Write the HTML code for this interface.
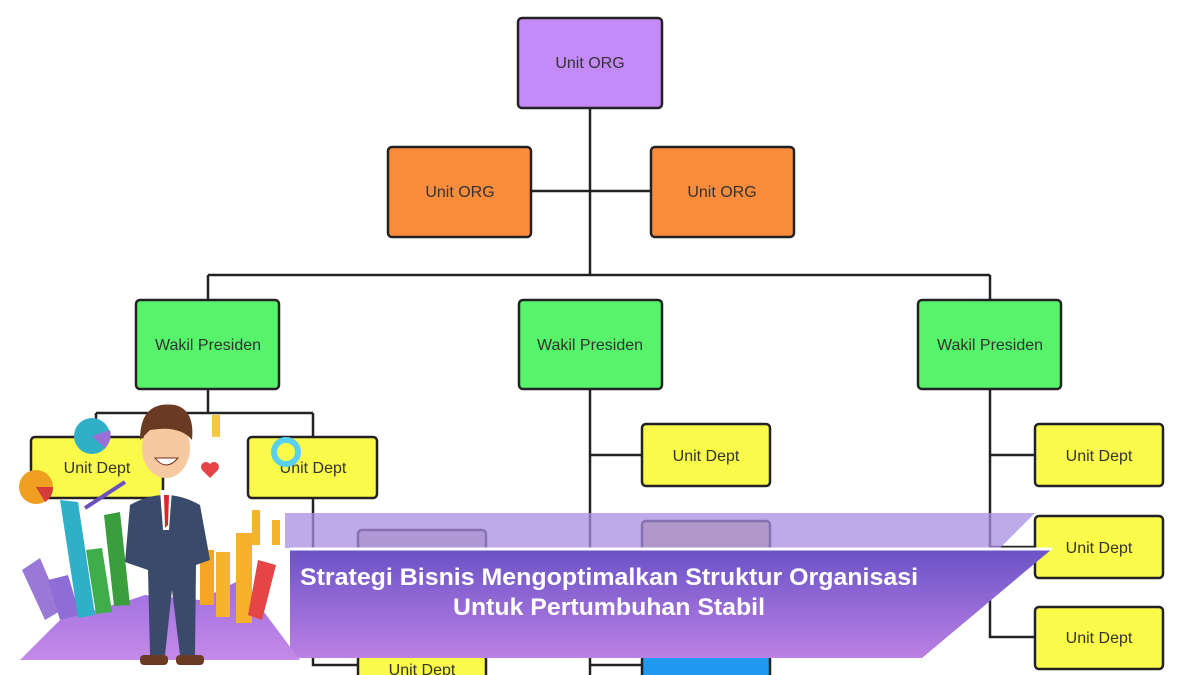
<!DOCTYPE html>
<html><head><meta charset="utf-8"><style>
html,body{margin:0;padding:0;background:#fff;width:1200px;height:675px;overflow:hidden}
svg{display:block}
text{font-family:"Liberation Sans",sans-serif}
</style></head><body>
<svg width="1200" height="675" viewBox="0 0 1200 675" xmlns="http://www.w3.org/2000/svg">
<defs>
<linearGradient id="bg" x1="0" y1="0" x2="0" y2="1"><stop offset="0" stop-color="#6a52c6"/><stop offset="1" stop-color="#bb80e4"/></linearGradient>
<linearGradient id="hill" x1="0" y1="0" x2="0" y2="1"><stop offset="0" stop-color="#9b6ee0"/><stop offset="1" stop-color="#c58ae8"/></linearGradient>
</defs>
<g stroke="#222" stroke-width="2.5" fill="none">
<path d="M590 108V275M531 191H651M208 275H990M208 275V300M990 275V300"/>
<path d="M208 389V413M96 413H313M96 413V437M313 413V437M313 498V665H358M313 560H358"/>
<path d="M590 389V675M590 455H642M590 550H642M590 665H642"/>
<path d="M990 389V637H1035M990 455H1035M990 547H1035"/>
</g>
<g stroke="#222" stroke-width="2.5">
<rect x="518" y="18" width="144" height="90" rx="4" fill="#c48bf8"/>
<rect x="388" y="147" width="143" height="90" rx="4" fill="#fb8c3c"/>
<rect x="651" y="147" width="143" height="90" rx="4" fill="#fb8c3c"/>
<rect x="136" y="300" width="143" height="89" rx="4" fill="#57f46b"/>
<rect x="519" y="300" width="143" height="89" rx="4" fill="#57f46b"/>
<rect x="918" y="300" width="143" height="89" rx="4" fill="#57f46b"/>
<rect x="31" y="437" width="132" height="61" rx="4" fill="#fafa4a"/>
<rect x="248" y="437" width="129" height="61" rx="4" fill="#fafa4a"/>
<rect x="642" y="424" width="128" height="62" rx="4" fill="#fafa4a"/>
<rect x="1035" y="424" width="128" height="62" rx="4" fill="#fafa4a"/>
<rect x="1035" y="516" width="128" height="62" rx="4" fill="#fafa4a"/>
<rect x="1035" y="607" width="128" height="62" rx="4" fill="#fafa4a"/>
<rect x="358" y="530" width="128" height="62" rx="4" fill="#c8b8b8"/>
<rect x="642" y="521" width="128" height="62" rx="4" fill="#c9b98a"/>
<rect x="358" y="655" width="128" height="40" rx="4" fill="#fafa4a"/>
<rect x="642" y="655" width="128" height="40" rx="4" fill="#1f9af0"/>
</g>
<g font-size="16" fill="#333" text-anchor="middle">
<text x="590" y="68">Unit ORG</text>
<text x="460" y="197">Unit ORG</text>
<text x="722" y="197">Unit ORG</text>
<text x="208" y="350">Wakil Presiden</text>
<text x="590" y="350">Wakil Presiden</text>
<text x="990" y="350">Wakil Presiden</text>
<text x="97" y="473">Unit Dept</text>
<text x="313" y="473">Unit Dept</text>
<text x="706" y="461">Unit Dept</text>
<text x="1099" y="461">Unit Dept</text>
<text x="1099" y="553">Unit Dept</text>
<text x="1099" y="643">Unit Dept</text>
<text x="422" y="675">Unit Dept</text>
</g>
<!-- banner -->
<path d="M285 513H1035L1000 548H285Z" fill="#a88ee0" opacity="0.75"/>
<path d="M290 549H1052L922 658H290Z" fill="url(#bg)"/>
<path d="M290 549H1052" stroke="#fff" stroke-width="3"/>
<g font-size="24" font-weight="bold" fill="#fff">
<text x="300" y="585" textLength="618" lengthAdjust="spacingAndGlyphs">Strategi Bisnis Mengoptimalkan Struktur Organisasi</text>
<text x="453" y="615" textLength="312" lengthAdjust="spacingAndGlyphs">Untuk Pertumbuhan Stabil</text>
</g>
<!-- illustration -->
<path d="M20 660L60 620L130 600L145 595L200 600L240 580L270 620L300 660Z" fill="url(#hill)"/>
<path d="M22 570L40 558L62 610L45 620Z" fill="#9a78d8"/>
<path d="M48 580L68 575L80 615L60 620Z" fill="#8f6dd6"/>
<path d="M60 500L78 502L95 615L78 618Z" fill="#2fb0c8"/>
<path d="M86 550L102 548L112 612L96 614Z" fill="#3fae4a"/>
<path d="M104 515L120 512L130 605L114 606Z" fill="#3a9e3c"/>
<rect x="200" y="550" width="14" height="55" fill="#f5a623"/>
<rect x="216" y="552" width="14" height="65" fill="#f5b52a"/>
<rect x="236" y="533" width="16" height="90" fill="#f7b02c"/>
<path d="M258 560L276 565L262 620L248 615Z" fill="#e64545"/>
<rect x="252" y="510" width="8" height="35" fill="#f5b52a"/>
<rect x="272" y="520" width="8" height="25" fill="#f5b52a"/>
<circle cx="92" cy="436" r="18" fill="#2fb0c8"/>
<path d="M92 436L110 430A18 18 0 0 1 105 448Z" fill="#9a6fd6"/>
<circle cx="36" cy="487" r="17" fill="#f0a020"/>
<path d="M36 487H53A17 17 0 0 1 45 502Z" fill="#d63a3a"/>
<circle cx="286" cy="452" r="12" fill="none" stroke="#5ad0f0" stroke-width="6"/>
<path d="M210 478l-8-8a5 5 0 0 1 8-6a5 5 0 0 1 8 6z" fill="#e64545"/>
<path d="M85 508L125 482" stroke="#6a4fc0" stroke-width="4"/>
<rect x="212" y="415" width="8" height="22" fill="#f5c842"/>
<!-- man -->
<path d="M130 505Q165 485 200 505L210 560L196 565L195 655H180L172 590L165 655H150L148 570L125 562Z" fill="#3a4a6a"/>
<path d="M160 490H172L169 530L163 530Z" fill="#fff"/>
<path d="M164 495H169L168 525L165 528Z" fill="#d32a2a"/>
<ellipse cx="166" cy="448" rx="24" ry="30" fill="#f7c9a0"/>
<path d="M140 440Q140 400 175 405Q195 410 192 440Q180 425 150 430Z" fill="#6a3a22"/>
<path d="M155 458Q166 472 178 458Z" fill="#fff" stroke="#7a2a1a"/>
<rect x="140" y="655" width="28" height="10" rx="4" fill="#6a3a22"/>
<rect x="176" y="655" width="28" height="10" rx="4" fill="#6a3a22"/>
</svg>
</body></html>
